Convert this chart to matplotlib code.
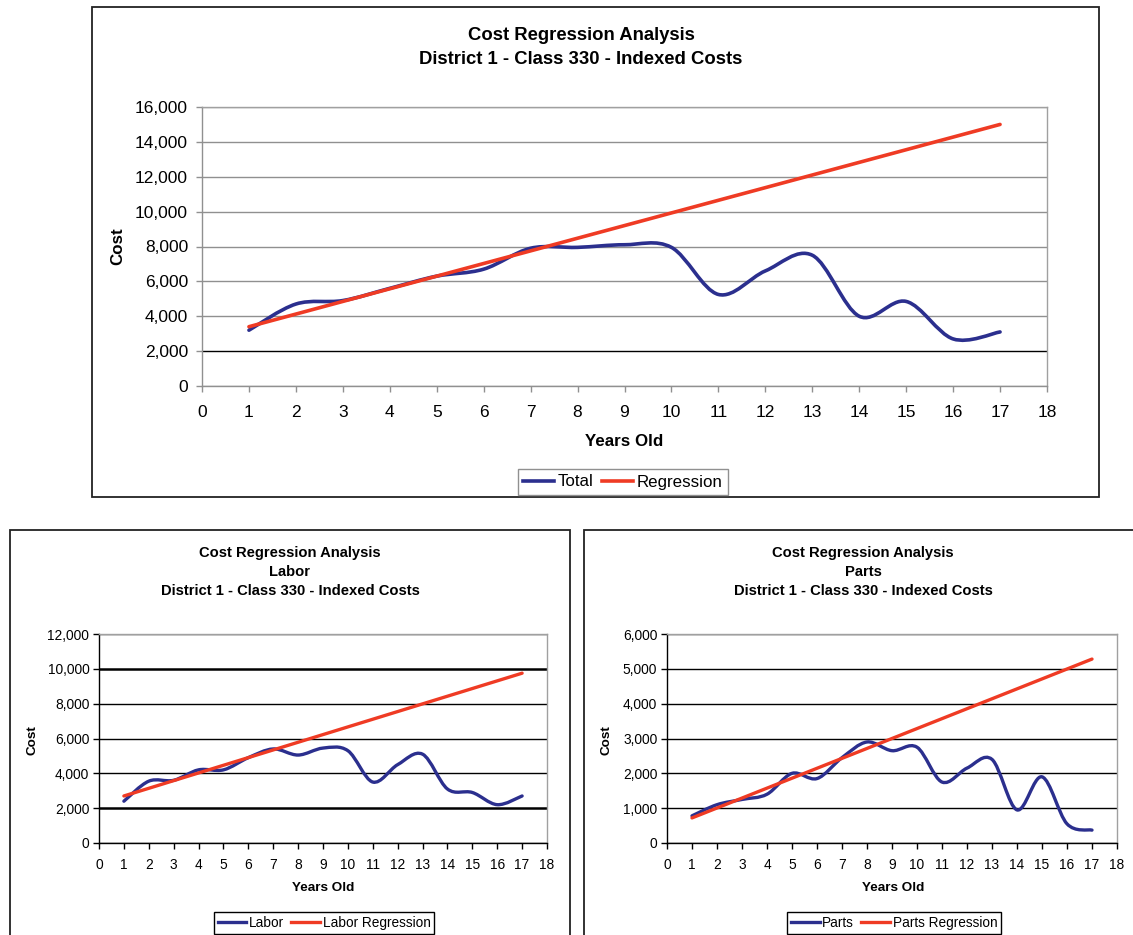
import matplotlib
matplotlib.use('Agg')
import matplotlib.pyplot as plt
from matplotlib.path import Path
from matplotlib.patches import PathPatch, Rectangle
from matplotlib.lines import Line2D
from matplotlib.ticker import FuncFormatter

plt.rcParams['font.family'] = ['Liberation Sans', 'DejaVu Sans']

# ---------------- data ----------------
years = list(range(1, 18))
total = [3200, 4700, 4900, 5600, 6300, 6700, 7900, 7950, 8100, 7950,
         5250, 6600, 7500, 4000, 4850, 2700, 3100]
labor = [2400, 3550, 3600, 4200, 4200, 4900, 5400, 5050, 5450, 5300,
         3500, 4500, 5100, 3100, 2900, 2200, 2700]
parts = [780, 1100, 1250, 1400, 2000, 1850, 2450, 2900, 2650, 2750,
         1750, 2150, 2400, 950, 1900, 550, 370]
reg_years = [1, 17]
total_reg = [3400, 15000]
labor_reg = [2700, 9750]
parts_reg = [720, 5280]
x_ticks = list(range(0, 19))

BLUE = '#2B2F8E'
RED = '#EF3B24'
GRAY = '#909090'

W, H = 1133, 935
fig = plt.figure(figsize=(W / 100, H / 100), dpi=100)


def ax_rect(l, t, r, b):
    return [l / W, 1 - b / H, (r - l) / W, (b - t) / H]


def fx(x):
    return x / W


def fy(y):
    return 1 - y / H


def smooth_path(xs, ys):
    pts = list(zip(xs, ys))
    n = len(pts)
    verts = [pts[0]]
    codes = [Path.MOVETO]
    for i in range(n - 1):
        p0 = pts[i - 1] if i > 0 else pts[i]
        p1 = pts[i]
        p2 = pts[i + 1]
        p3 = pts[i + 2] if i + 2 < n else pts[i + 1]
        c1 = (p1[0] + (p2[0] - p0[0]) / 6, p1[1] + (p2[1] - p0[1]) / 6)
        c2 = (p2[0] - (p3[0] - p1[0]) / 6, p2[1] - (p3[1] - p1[1]) / 6)
        verts += [c1, c2, p2]
        codes += [Path.CURVE4] * 3
    return Path(verts, codes)


def setup(ax, ymax, ystep, tick_fs, grid_styles, axis_color, xpad, ypad):
    ax.set_xlim(0, 18)
    ax.set_ylim(0, ymax)
    ax.set_xticks(x_ticks)
    yt = list(range(0, ymax + 1, ystep))
    ax.set_yticks(yt)
    ax.yaxis.set_major_formatter(FuncFormatter(lambda v, p: f'{v:,.0f}'))
    ax.tick_params(direction='out', length=4, width=1, color=axis_color,
                   labelsize=tick_fs)
    ax.tick_params(axis='x', pad=xpad)
    ax.tick_params(axis='y', pad=ypad)
    for s in ['left', 'bottom']:
        ax.spines[s].set_color(axis_color)
        ax.spines[s].set_linewidth(1.0)
    for s in ['top', 'right']:
        ax.spines[s].set_color('#A0A0A0')
        ax.spines[s].set_linewidth(1.0)
    ax.yaxis.grid(True)
    for v, gl in zip(yt, ax.get_ygridlines()):
        c, lw = grid_styles(v)
        gl.set_color(c)
        gl.set_linewidth(lw)
    ax.set_axisbelow(True)


def draw_series(ax, vals, reg_vals, lw):
    patch = PathPatch(smooth_path(years, vals), facecolor='none',
                      edgecolor=BLUE, linewidth=lw, capstyle='round',
                      joinstyle='round', zorder=3)
    ax.add_patch(patch)
    ax.plot(reg_years, reg_vals, color=RED, linewidth=lw,
            solid_capstyle='round', zorder=4)


# ---------------- top chart ----------------
ax1 = fig.add_axes(ax_rect(202, 107, 1047, 386))
setup(ax1, 16000, 2000, 12.5,
      lambda v: ('black', 1.0) if v == 2000 else (GRAY, 1.0),
      GRAY, 9.5, 6.0)
draw_series(ax1, total, total_reg, 2.6)
fig.text(fx(581), fy(36), 'Cost Regression Analysis', ha='center', va='center',
         fontsize=13.3, fontweight='bold')
fig.text(fx(581), fy(60), 'District 1 - Class 330 - Indexed Costs', ha='center',
         va='center', fontsize=13.3, fontweight='bold')
fig.text(fx(118), fy(246), 'Cost', rotation=90, ha='center', va='center',
         fontsize=12.2, fontweight='bold')
fig.text(fx(624), fy(441), 'Years Old', ha='center', va='center',
         fontsize=12.2, fontweight='bold')
h1 = [Line2D([], [], color=BLUE, lw=2.6), Line2D([], [], color=RED, lw=2.6)]
fig.legend(h1, ['Total', 'Regression'], loc='center',
           bbox_to_anchor=(fx(623), fy(482)), ncol=2, fontsize=12.2,
           frameon=True, fancybox=False, edgecolor=GRAY, framealpha=1,
           handlelength=1.8, handletextpad=0.25, columnspacing=0.5,
           borderpad=0.3, borderaxespad=0)
fig.add_artist(Rectangle((fx(92), fy(497)), (1099 - 92) / W, (497 - 7) / H,
                         transform=fig.transFigure, fill=False,
                         edgecolor='#222222', linewidth=1.3))

# ---------------- bottom-left chart ----------------
ax2 = fig.add_axes(ax_rect(99, 634, 547, 843))
setup(ax2, 12000, 2000, 9.9,
      lambda v: ('black', 1.8) if v in (2000, 10000) else ('black', 1.0),
      'black', 7.0, 3.0)
draw_series(ax2, labor, labor_reg, 2.4)
for yy, txt in zip([553, 572, 591], ['Cost Regression Analysis', 'Labor',
                                      'District 1 - Class 330 - Indexed Costs']):
    fig.text(fx(290), fy(yy), txt, ha='center', va='center', fontsize=10.6,
             fontweight='bold')
fig.text(fx(33), fy(740), 'Cost', rotation=90, ha='center', va='center',
         fontsize=9.7, fontweight='bold')
fig.text(fx(323), fy(888), 'Years Old', ha='center', va='center',
         fontsize=9.7, fontweight='bold')
h2 = [Line2D([], [], color=BLUE, lw=2.4), Line2D([], [], color=RED, lw=2.4)]
fig.legend(h2, ['Labor', 'Labor Regression'], loc='center',
           bbox_to_anchor=(fx(324), fy(923)), ncol=2, fontsize=9.85,
           frameon=True, fancybox=False, edgecolor='black', framealpha=1,
           handlelength=2.1, handletextpad=0.2, columnspacing=0.5,
           borderpad=0.3, borderaxespad=0)
fig.add_artist(Rectangle((fx(10), fy(945)), (570 - 10) / W, (945 - 530) / H,
                         transform=fig.transFigure, fill=False,
                         edgecolor='#222222', linewidth=1.3))

# ---------------- bottom-right chart ----------------
ax3 = fig.add_axes(ax_rect(667, 634, 1117, 843))
setup(ax3, 6000, 1000, 9.9, lambda v: ('black', 1.0), 'black', 7.0, 3.0)
draw_series(ax3, parts, parts_reg, 2.4)
for yy, txt in zip([553, 572, 591], ['Cost Regression Analysis', 'Parts',
                                      'District 1 - Class 330 - Indexed Costs']):
    fig.text(fx(863), fy(yy), txt, ha='center', va='center', fontsize=10.6,
             fontweight='bold')
fig.text(fx(607), fy(740), 'Cost', rotation=90, ha='center', va='center',
         fontsize=9.7, fontweight='bold')
fig.text(fx(893), fy(888), 'Years Old', ha='center', va='center',
         fontsize=9.7, fontweight='bold')
fig.legend(h2, ['Parts', 'Parts Regression'], loc='center',
           bbox_to_anchor=(fx(894), fy(923)), ncol=2, fontsize=9.85,
           frameon=True, fancybox=False, edgecolor='black', framealpha=1,
           handlelength=2.1, handletextpad=0.2, columnspacing=0.5,
           borderpad=0.3, borderaxespad=0)
fig.add_artist(Rectangle((fx(584), fy(945)), (1145 - 584) / W, (945 - 530) / H,
                         transform=fig.transFigure, fill=False,
                         edgecolor='#222222', linewidth=1.3))

fig.savefig('out.png', dpi=100)
